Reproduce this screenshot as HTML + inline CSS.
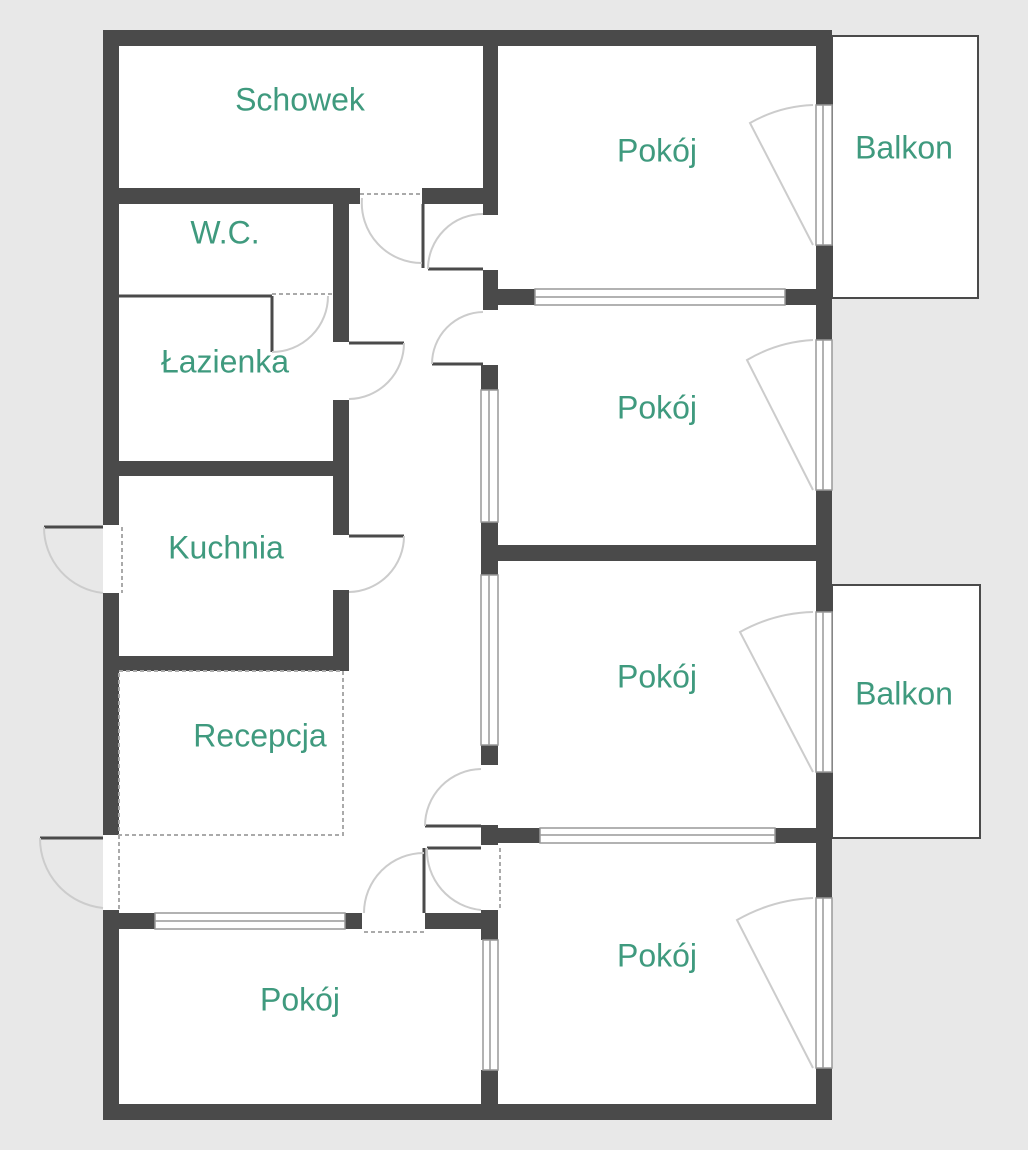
<!DOCTYPE html>
<html><head><meta charset="utf-8"><style>
html,body{margin:0;padding:0;background:#e8e8e8;}
svg{display:block}
text{font-family:"Liberation Sans",sans-serif;font-size:32px;fill:#3f9a7e;text-anchor:middle;dominant-baseline:middle}
</style></head><body>
<svg width="1028" height="1150" viewBox="0 0 1028 1150" xmlns="http://www.w3.org/2000/svg">
<rect x="0" y="0" width="1028" height="1150" fill="#e8e8e8"/>
<rect x="832" y="36" width="146" height="262" fill="#fff" stroke="#4a4a4a" stroke-width="2"/>
<rect x="832" y="585" width="148" height="253" fill="#fff" stroke="#4a4a4a" stroke-width="2"/>
<rect x="103" y="30" width="729" height="1090" fill="#fff"/>
<g fill="#4a4a4a">
<rect x="103" y="30" width="729" height="16"/>
<rect x="103" y="1104" width="729" height="16"/>
<rect x="103" y="30" width="16" height="495"/>
<rect x="103" y="593" width="16" height="242"/>
<rect x="103" y="910" width="16" height="210"/>
<rect x="816" y="30" width="16" height="75"/>
<rect x="816" y="245" width="16" height="95"/>
<rect x="816" y="490" width="16" height="122"/>
<rect x="816" y="772" width="16" height="126"/>
<rect x="816" y="1068" width="16" height="52"/>
<rect x="483" y="46" width="15" height="169"/>
<rect x="483" y="270" width="15" height="40"/>
<rect x="481" y="365" width="17" height="25"/>
<rect x="481" y="522" width="17" height="53"/>
<rect x="481" y="745" width="17" height="20"/>
<rect x="481" y="825" width="17" height="20"/>
<rect x="481" y="910" width="17" height="30"/>
<rect x="481" y="1070" width="17" height="40"/>
<rect x="483" y="289" width="52" height="16"/>
<rect x="785" y="289" width="31" height="16"/>
<rect x="483" y="545" width="333" height="16"/>
<rect x="483" y="828" width="57" height="15"/>
<rect x="775" y="828" width="41" height="15"/>
<rect x="119" y="188" width="241" height="16"/>
<rect x="422" y="188" width="61" height="16"/>
<rect x="333" y="204" width="16" height="138"/>
<rect x="333" y="400" width="16" height="135"/>
<rect x="333" y="590" width="16" height="81"/>
<rect x="119" y="461" width="214" height="15"/>
<rect x="119" y="656" width="230" height="15"/>
<rect x="119" y="913" width="36" height="16"/>
<rect x="345" y="913" width="17" height="16"/>
<rect x="425" y="913" width="70" height="16"/>
</g>
<g stroke="#4a4a4a" stroke-width="3" fill="none">
<line x1="119" y1="296" x2="272" y2="296"/>
<line x1="272" y1="296" x2="272" y2="352"/>
<line x1="423" y1="204" x2="423" y2="268"/>
<line x1="428" y1="269" x2="483" y2="269"/>
<line x1="432" y1="364" x2="483" y2="364"/>
<line x1="349" y1="343" x2="404" y2="343"/>
<line x1="349" y1="536" x2="404" y2="536"/>
<line x1="425" y1="826" x2="481" y2="826"/>
<line x1="427" y1="848" x2="481" y2="848"/>
<line x1="424" y1="848" x2="424" y2="913"/>
<line x1="44" y1="527" x2="103" y2="527"/>
<line x1="40" y1="838" x2="103" y2="838"/>
</g>
<g stroke="#aaa" stroke-width="2" stroke-dasharray="4 3" fill="none">
<rect x="119" y="671" width="224" height="164"/>
<line x1="119" y1="835" x2="119" y2="910"/>
<line x1="360" y1="194" x2="422" y2="194"/>
<line x1="272" y1="294" x2="333" y2="294"/>
<line x1="364" y1="932" x2="425" y2="932"/>
<line x1="500" y1="848" x2="500" y2="910"/>
<line x1="122" y1="527" x2="122" y2="593"/>
</g>
<g fill="#fff" stroke="#999" stroke-width="1.5">
<rect x="535" y="289" width="250" height="16"/><line x1="535" y1="297" x2="785" y2="297"/>
<rect x="540" y="828" width="235" height="15"/><line x1="540" y1="835" x2="775" y2="835"/>
<rect x="155" y="913" width="190" height="16"/><line x1="155" y1="921" x2="345" y2="921"/>
<rect x="481" y="390" width="17" height="132"/><line x1="489" y1="390" x2="489" y2="522"/>
<rect x="481" y="575" width="17" height="170"/><line x1="489" y1="575" x2="489" y2="745"/>
<rect x="483" y="940" width="15" height="130"/><line x1="490" y1="940" x2="490" y2="1070"/>
<rect x="816" y="105" width="16" height="140"/><line x1="823" y1="105" x2="823" y2="245"/>
<rect x="816" y="340" width="16" height="150"/><line x1="823" y1="340" x2="823" y2="490"/>
<rect x="816" y="612" width="16" height="160"/><line x1="823" y1="612" x2="823" y2="772"/>
<rect x="816" y="898" width="16" height="170"/><line x1="823" y1="898" x2="823" y2="1068"/>
</g>
<g stroke="#ccc" stroke-width="2" fill="none">
<path d="M813 245 L750 123 A137 137 0 0 1 813 105"/>
<path d="M813 490 L747 360 A145 145 0 0 1 813 340"/>
<path d="M813 772 L740 632 A158 158 0 0 1 813 612"/>
<path d="M813 1068 L737 920 A168 168 0 0 1 813 898"/>
<path d="M362 198 A60 60 0 0 0 422 263"/>
<path d="M428 269 A55 55 0 0 1 483 214"/>
<path d="M432 364 A52 52 0 0 1 483 312"/>
<path d="M404 343 A56 56 0 0 1 349 399"/>
<path d="M404 536 A56 56 0 0 1 349 592"/>
<path d="M272 352 A56 56 0 0 0 328 296"/>
<path d="M425 826 A57 57 0 0 1 481 769"/>
<path d="M427 848 A60 60 0 0 0 481 910"/>
<path d="M364 913 A60 60 0 0 1 424 853"/>
<path d="M44 527 A66 66 0 0 0 103 593"/>
<path d="M40 838 A70 70 0 0 0 103 908"/>
</g>
<text x="300" y="102">Schowek</text>
<text x="225" y="235">W.C.</text>
<text x="225" y="364">Łazienka</text>
<text x="226" y="550">Kuchnia</text>
<text x="260" y="738">Recepcja</text>
<text x="657" y="153">Pokój</text>
<text x="657" y="410">Pokój</text>
<text x="657" y="679">Pokój</text>
<text x="657" y="958">Pokój</text>
<text x="300" y="1002">Pokój</text>
<text x="904" y="150">Balkon</text>
<text x="904" y="696">Balkon</text>
</svg>
</body></html>
